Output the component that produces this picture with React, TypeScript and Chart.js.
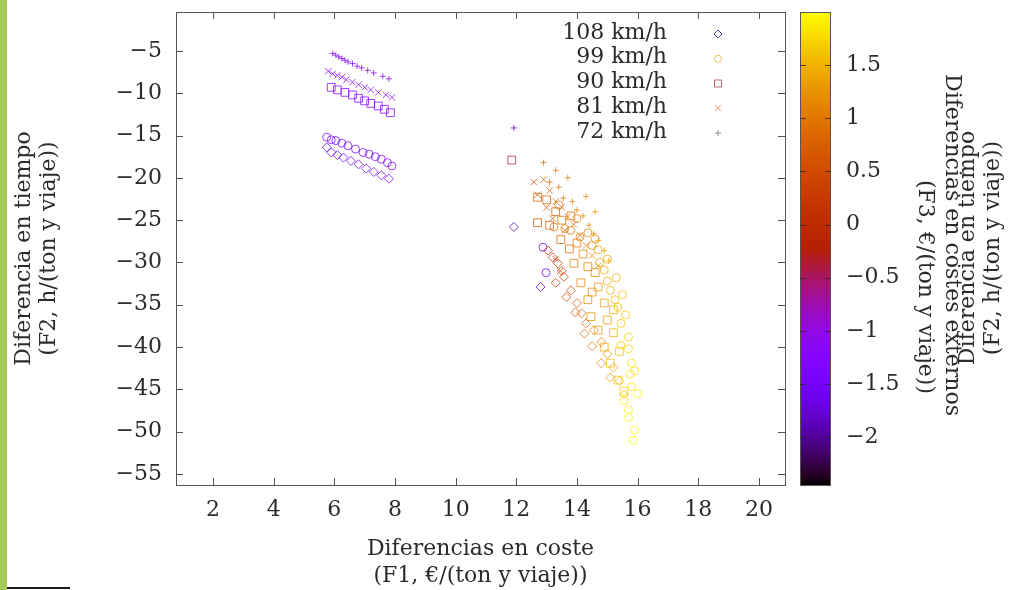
import React, { useEffect, useRef } from 'react';
import { Chart, registerables } from 'chart.js';

Chart.register(...registerables);

// Axis ranges and ticks
const xMin = 0.78;
const xMax = 20.86;
const yMin = -56.3;
const yMax = -0.4;
const cbMin = -2.45;
const cbMax = 2.0;
const xTicks = [2, 4, 6, 8, 10, 12, 14, 16, 18, 20];
const yTicks = [-5, -10, -15, -20, -25, -30, -35, -40, -45, -50, -55];
const cbTicks = [1.5, 1, 0.5, 0, -0.5, -1, -1.5, -2];

const speedLabels = ['108 km/h', '99 km/h', '90 km/h', '81 km/h', '72 km/h'];

// 108 km/h: F1 (x), F2 (y), F3 (colour)
const s108x = [5.75, 5.9, 6.1, 6.3, 6.55, 6.8, 7.05, 7.3, 7.55, 7.8,
  11.92, 12.8, 13.05, 13.2, 13.37, 13.5, 13.57, 13.8, 14.0, 14.15, 14.3, 14.56, 14.8, 15.0, 15.2, 15.4, 15.55,
  13.3, 13.65, 13.95, 14.25, 14.5, 14.8, 15.1];
const s108y = [-16.4, -17.0, -17.3, -17.6, -18.0, -18.4, -18.9, -19.3, -19.7, -20.1,
  -25.8, -32.9, -28.6, -29.4, -30.1, -31.0, -31.7, -33.3, -34.8, -36.0, -37.2, -38.0, -39.4, -40.8, -42.4, -44.0, -45.6,
  -32.4, -34.1, -35.9, -38.4, -39.9, -41.9, -43.6];
const s108c = [-1.75, -1.7, -1.7, -1.65, -1.65, -1.6, -1.6, -1.55, -1.55, -1.5,
  -2.0, -1.7, 0.1, 0.2, 0.3, 0.35, 0.45, 0.55, 0.7, 0.8, 0.9, 1.0, 1.1, 1.2, 1.35, 1.5, 1.6,
  0.35, 0.5, 0.65, 0.85, 1.0, 1.15, 1.3];

// 99 km/h
const s99x = [5.75, 5.9, 6.05, 6.25, 6.45, 6.7, 6.95, 7.15, 7.35, 7.55, 7.75, 7.9,
  12.88, 12.98, 13.24, 13.6, 13.8, 14.1, 14.36, 14.5, 14.7, 14.75, 14.9, 15.0, 15.1, 15.25, 15.35, 15.45, 15.7, 15.45, 15.7, 15.8, 15.75, 15.8, 15.55, 15.7, 15.7, 15.9, 15.85,
  13.4, 14.0, 14.6, 15.0, 15.3, 15.5, 15.6, 15.9, 16.0];
const s99y = [-15.2, -15.5, -15.6, -15.9, -16.2, -16.6, -17.0, -17.2, -17.5, -17.8, -18.2, -18.6,
  -28.2, -31.2, -25.8, -26.0, -26.2, -27.0, -26.5, -28.0, -28.5, -30.0, -30.9, -32.2, -33.3, -34.4, -35.3, -37.2, -38.8, -39.8, -40.2, -41.9, -43.2, -44.7, -46.3, -47.4, -48.3, -49.8, -51.0,
  -23.2, -24.8, -27.2, -29.6, -31.8, -33.8, -36.2, -42.8, -45.5];
const s99c = [-1.5, -1.48, -1.46, -1.45, -1.43, -1.42, -1.4, -1.38, -1.36, -1.34, -1.32, -1.3,
  -1.7, -1.6, 0.9, 1.0, 1.05, 1.1, 1.15, 1.2, 1.3, 1.35, 1.4, 1.45, 1.5, 1.55, 1.6, 1.65, 1.7, 1.7, 1.75, 1.8, 1.82, 1.85, 1.88, 1.9, 1.92, 1.95, 1.98,
  0.95, 1.1, 1.25, 1.4, 1.5, 1.58, 1.65, 1.84, 1.9];

// 90 km/h
const s90x = [5.9, 6.1, 6.35, 6.6, 6.8, 7.0, 7.2, 7.45, 7.65, 7.85,
  11.85, 12.7, 13.0, 12.7, 13.1, 13.5, 13.47, 13.75, 14.0, 13.9, 14.36, 14.13, 14.5, 14.7, 14.36, 14.9, 14.46, 15.0, 14.7, 15.2, 14.9, 15.1, 15.35, 15.55,
  13.3, 13.8, 14.2, 14.6, 15.2, 15.4];
const s90y = [-9.3, -9.6, -9.9, -10.2, -10.6, -10.9, -11.2, -11.5, -11.9, -12.3,
  -17.9, -22.3, -22.6, -25.3, -25.6, -25.0, -27.3, -28.4, -27.7, -30.1, -30.5, -32.4, -33.5, -32.9, -34.4, -34.8, -36.4, -36.8, -38.0, -38.3, -40.0, -41.9, -43.9, -45.2,
  -24.0, -24.5, -29.0, -31.2, -35.6, -40.5];
const s90c = [-1.3, -1.3, -1.28, -1.26, -1.25, -1.23, -1.2, -1.18, -1.16, -1.15,
  -0.4, 0.8, 0.85, 0.5, 0.7, 0.9, 0.8, 0.9, 1.0, 1.05, 1.15, 1.1, 1.2, 1.25, 1.2, 1.35, 1.25, 1.4, 1.35, 1.5, 1.45, 1.55, 1.65, 1.75,
  0.75, 0.9, 1.05, 1.2, 1.45, 1.6];

// 81 km/h
const s81x = [5.8, 5.95, 6.1, 6.25, 6.4, 6.6, 6.8, 7.0, 7.2, 7.45, 7.7, 7.9,
  12.58, 12.9, 13.1, 13.3, 13.5, 13.7, 13.9, 14.1, 14.3, 14.5, 14.7, 13.3,
  12.7, 13.0, 13.2, 13.6, 13.45];
const s81y = [-7.4, -7.7, -7.9, -8.1, -8.4, -8.7, -9.0, -9.3, -9.6, -9.9, -10.2, -10.5,
  -20.5, -20.2, -21.5, -22.8, -23.5, -24.6, -25.5, -26.8, -28.0, -29.2, -30.4, -29.6,
  -22.0, -23.5, -24.8, -26.2, -31.0];
const s81c = [-1.32, -1.3, -1.3, -1.28, -1.27, -1.26, -1.25, -1.24, -1.22, -1.2, -1.18, -1.17,
  0.6, 0.7, 0.7, 0.75, 0.8, 0.85, 0.9, 0.95, 1.0, 1.1, 1.15, 0.25,
  0.55, 0.6, 0.65, 0.75, 0.3];

// 72 km/h
const s72x = [5.95, 6.05, 6.15, 6.25, 6.35, 6.45, 6.6, 6.75, 6.9, 7.1, 7.3, 7.6, 7.8,
  11.92, 12.9, 13.3, 13.7, 13.4, 13.55, 13.85, 14.0, 14.2, 14.4, 14.55, 14.7, 14.9, 15.05,
  13.1, 14.3, 14.6];
const s72y = [-5.3, -5.5, -5.7, -5.9, -6.1, -6.3, -6.5, -6.8, -7.0, -7.3, -7.6, -8.0, -8.3,
  -14.1, -18.2, -19.1, -20.0, -21.1, -22.4, -22.8, -23.8, -24.5, -25.6, -26.6, -27.4, -28.6, -29.8,
  -20.5, -22.2, -24.0];
const s72c = [-1.25, -1.25, -1.24, -1.24, -1.23, -1.22, -1.21, -1.2, -1.19, -1.18, -1.17, -1.16, -1.15,
  -1.9, 0.9, 0.95, 1.0, 0.95, 1.0, 1.05, 1.1, 1.15, 1.2, 1.25, 1.3, 1.35, 1.4,
  0.9, 1.15, 1.25];

const textColor = '#2b2b2b';
const fontFamily = "'DejaVu Serif', serif";

// gnuplot-like palette (rgbformulae 7,5,15)
function palette(v: number, alpha = 1): string {
  const f = Math.min(1, Math.max(0, (v - cbMin) / (cbMax - cbMin)));
  const r = Math.sqrt(f);
  const g = f * f * f;
  const b = Math.max(0, Math.sin(2 * Math.PI * f));
  return `rgba(${Math.round(r * 255)},${Math.round(g * 255)},${Math.round(b * 255)},${alpha})`;
}

const fmt = (v: number) => (v < 0 ? '\u2212' + String(Math.abs(v)) : String(v));

function series(label: string, xs: number[], ys: number[], cs: number[], style: string, radius: number, keyColor: string) {
  return {
    label,
    data: xs.map((x, i) => ({ x, y: ys[i] })),
    pointStyle: style,
    pointRadius: radius,
    pointHoverRadius: radius,
    pointBorderWidth: 1,
    pointBorderColor: cs.map((c) => palette(c, 0.75)),
    pointBackgroundColor: 'rgba(0,0,0,0)',
    showLine: false,
    keyColor,
  };
}

// Keep the plot box where the fixed axis sizes put it
function fixVertical(width: number) {
  return (s: any) => {
    s.width = width;
    s.paddingTop = 0;
    s.paddingBottom = 0;
  };
}

// Border box with inward ticks on all four sides
const framePlugin = {
  id: 'frame',
  afterDraw(chart: any) {
    const { ctx, chartArea: a, scales } = chart;
    const len = 7;
    ctx.save();
    ctx.strokeStyle = '#555';
    ctx.lineWidth = 1;
    ctx.strokeRect(Math.round(a.left) + 0.5, Math.round(a.top) + 0.5, Math.round(a.right - a.left), Math.round(a.bottom - a.top));
    ctx.beginPath();
    xTicks.forEach((v) => {
      const px = Math.round(scales.x.getPixelForValue(v)) + 0.5;
      ctx.moveTo(px, a.bottom);
      ctx.lineTo(px, a.bottom - len);
      ctx.moveTo(px, a.top);
      ctx.lineTo(px, a.top + len);
    });
    yTicks.forEach((v) => {
      const py = Math.round(scales.y.getPixelForValue(v)) + 0.5;
      ctx.moveTo(a.left, py);
      ctx.lineTo(a.left + len, py);
      ctx.moveTo(a.right, py);
      ctx.lineTo(a.right - len, py);
    });
    ctx.stroke();
    ctx.restore();
  },
};

// Colour box drawn on the cb scale
const colorBarPlugin = {
  id: 'colorBar',
  afterDraw(chart: any) {
    const { ctx } = chart;
    const s = chart.scales.cb;
    const x0 = s.left + 15;
    const w = 31;
    const top = s.getPixelForValue(cbMax);
    const bottom = s.getPixelForValue(cbMin);
    const grad = ctx.createLinearGradient(0, bottom, 0, top);
    const n = 64;
    for (let i = 0; i <= n; i++) {
      grad.addColorStop(i / n, palette(cbMin + (i / n) * (cbMax - cbMin)));
    }
    ctx.save();
    ctx.fillStyle = grad;
    ctx.fillRect(x0, top, w, bottom - top);
    ctx.strokeStyle = '#555';
    ctx.lineWidth = 1;
    ctx.strokeRect(x0 + 0.5, Math.round(top) + 0.5, w - 1, Math.round(bottom - top));
    ctx.beginPath();
    cbTicks.forEach((v) => {
      const py = Math.round(s.getPixelForValue(v)) + 0.5;
      ctx.moveTo(x0, py);
      ctx.lineTo(x0 + 6, py);
      ctx.moveTo(x0 + w, py);
      ctx.lineTo(x0 + w - 6, py);
    });
    ctx.strokeStyle = 'rgba(40,40,40,0.8)';
    ctx.stroke();
    ctx.restore();
  },
};

function drawKeySymbol(ctx: CanvasRenderingContext2D, style: string, x: number, y: number) {
  ctx.beginPath();
  if (style === 'rectRot') {
    ctx.moveTo(x - 4, y); ctx.lineTo(x, y - 4); ctx.lineTo(x + 4, y); ctx.lineTo(x, y + 4); ctx.closePath();
  } else if (style === 'circle') {
    ctx.arc(x, y, 3.5, 0, Math.PI * 2);
  } else if (style === 'rect') {
    ctx.rect(x - 3.5, y - 3.5, 7, 7);
  } else if (style === 'crossRot') {
    ctx.moveTo(x - 3, y - 3); ctx.lineTo(x + 3, y + 3); ctx.moveTo(x + 3, y - 3); ctx.lineTo(x - 3, y + 3);
  } else {
    ctx.moveTo(x - 3, y); ctx.lineTo(x + 3, y); ctx.moveTo(x, y - 3); ctx.lineTo(x, y + 3);
  }
  ctx.stroke();
}

// Key in the top-right corner: text right-aligned, sample to its right
const keyPlugin = {
  id: 'key',
  afterDraw(chart: any) {
    const { ctx, chartArea: a } = chart;
    ctx.save();
    ctx.font = `22px ${fontFamily}`;
    ctx.textAlign = 'right';
    ctx.textBaseline = 'middle';
    chart.data.datasets.forEach((ds: any, i: number) => {
      const y = a.top + 21 + i * 24.75;
      ctx.fillStyle = textColor;
      ctx.fillText(ds.label, a.right - 118, y);
      ctx.strokeStyle = ds.keyColor;
      ctx.lineWidth = 1;
      drawKeySymbol(ctx, ds.pointStyle, a.right - 67, y + 1);
    });
    ctx.restore();
  },
};

// Rotated titles on the right-hand side
const sideTitlePlugin = {
  id: 'sideTitles',
  afterDraw(chart: any) {
    const { ctx } = chart;
    ctx.save();
    ctx.font = `22px ${fontFamily}`;
    ctx.fillStyle = textColor;
    ctx.textAlign = 'center';
    ctx.textBaseline = 'middle';
    // F3 title, reading downwards
    ctx.save();
    ctx.translate(952, 245);
    ctx.rotate(Math.PI / 2);
    ctx.fillText('Diferencias en costes externos', 0, 0);
    ctx.restore();
    ctx.save();
    ctx.translate(925, 287);
    ctx.rotate(Math.PI / 2);
    ctx.fillText('(F3, \u20ac/(ton y viaje))', 0, 0);
    ctx.restore();
    // F2 title, reading upwards
    ctx.save();
    ctx.translate(968, 248);
    ctx.rotate(-Math.PI / 2);
    ctx.fillText('Diferencia en tiempo', 0, 0);
    ctx.fillText('(F2, h/(ton y viaje))', 0, 25);
    ctx.restore();
    ctx.restore();
  },
};

export default function App() {
  const ref = useRef<HTMLCanvasElement>(null);

  useEffect(() => {
    if (!ref.current) return;
    Chart.defaults.font.family = fontFamily;
    Chart.defaults.color = textColor;
    const tickFont = { size: 22, family: fontFamily };
    const chart = new Chart(ref.current, {
      type: 'scatter',
      data: {
        datasets: [
          series(speedLabels[0], s108x, s108y, s108c, 'rectRot', 4.5, '#4e44a0'),
          series(speedLabels[1], s99x, s99y, s99c, 'circle', 4, '#e6c75a'),
          series(speedLabels[2], s90x, s90y, s90c, 'rect', 5.5, '#b46470'),
          series(speedLabels[3], s81x, s81y, s81c, 'crossRot', 4.5, '#ee9066'),
          series(speedLabels[4], s72x, s72y, s72c, 'cross', 3, '#8c8c8c'),
        ] as any,
      },
      options: {
        responsive: false,
        devicePixelRatio: 1,
        animation: false,
        layout: { padding: { top: 12, left: 0, right: 0, bottom: 0 } },
        plugins: { legend: { display: false }, tooltip: { enabled: false } },
        scales: {
          x: {
            type: 'linear',
            position: 'bottom',
            min: xMin,
            max: xMax,
            afterFit: (s: any) => { s.height = 105; s.paddingLeft = 0; s.paddingRight = 0; },
            afterBuildTicks: (s: any) => { s.ticks = xTicks.map((v) => ({ value: v })); },
            grid: { display: false, drawTicks: false },
            border: { display: false },
            ticks: { padding: 12, font: tickFont, color: textColor, autoSkip: false, maxRotation: 0, callback: (v: any) => fmt(Number(v)) },
            title: {
              display: true,
              text: ['Diferencias en coste', '(F1, \u20ac/(ton y viaje))'],
              font: { size: 22, family: fontFamily, lineHeight: 1.227 },
              color: textColor,
              padding: { top: 0, bottom: 0 },
            },
          },
          y: {
            type: 'linear',
            position: 'left',
            min: yMin,
            max: yMax,
            afterFit: fixVertical(176),
            afterBuildTicks: (s: any) => { s.ticks = yTicks.map((v) => ({ value: v })); },
            grid: { display: false, drawTicks: false },
            border: { display: false },
            ticks: { padding: 14, font: tickFont, color: textColor, autoSkip: false, callback: (v: any) => fmt(Number(v)) },
            title: {
              display: true,
              text: ['Diferencia en tiempo', '(F2, h/(ton y viaje))'],
              font: { size: 22, family: fontFamily, lineHeight: 1.136 },
              color: textColor,
              padding: { top: 12, bottom: 0 },
            },
          },
          cb: {
            type: 'linear',
            position: 'right',
            min: cbMin,
            max: cbMax,
            afterFit: fixVertical(224),
            afterBuildTicks: (s: any) => { s.ticks = cbTicks.map((v) => ({ value: v })); },
            grid: { display: false, drawTicks: false },
            border: { display: false },
            ticks: { padding: 61, font: tickFont, color: textColor, autoSkip: false, callback: (v: any) => fmt(Number(v)) },
          },
        },
      } as any,
      plugins: [framePlugin, colorBarPlugin, keyPlugin, sideTitlePlugin],
    });
    return () => chart.destroy();
  }, []);

  return (
    <div style={{ position: 'fixed', left: 0, top: 0, width: 1009, height: 590, background: '#ffffff', overflow: 'hidden' }}>
      <div style={{ position: 'absolute', left: 0, top: 0, width: 7, height: 590, background: '#a3cb55' }} />
      <div style={{ position: 'absolute', left: 7, top: 587, width: 63, height: 2, background: '#1e1e1e' }} />
      <canvas ref={ref} width={1009} height={590} style={{ position: 'absolute', left: 0, top: 0, width: 1009, height: 590 }} />
    </div>
  );
}
